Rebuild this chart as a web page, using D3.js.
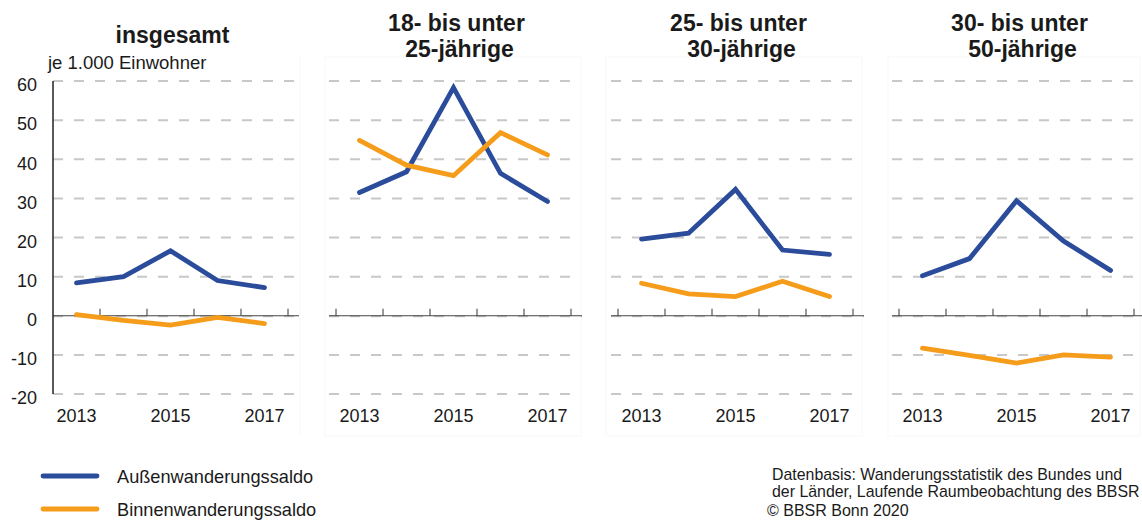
<!DOCTYPE html>
<html>
<head>
<meta charset="utf-8">
<script src="https://cdn.jsdelivr.net/npm/d3@7"></script>
<style>
  html, body { margin: 0; padding: 0; background: #fff; }
  svg { display: block; }
  text { font-family: Arial, "Liberation Sans", sans-serif; fill: #1a1a1a; }
</style>
</head>
<body>
<svg id="chart" width="1142" height="525"></svg>
<script>
// ---- data ----
const years = [2013, 2014, 2015, 2016, 2017];
const yearLabels = [2013, 2015, 2017];
const panelTitles = [
  ["insgesamt"],
  ["18- bis unter", "25-jährige"],
  ["25- bis unter", "30-jährige"],
  ["30- bis unter", "50-jährige"]
];
const aussen = [
  [8.4, 10.0, 16.6, 9.0, 7.2],
  [31.5, 36.8, 58.3, 36.4, 29.2],
  [19.6, 21.1, 32.3, 16.8, 15.7],
  [10.2, 14.6, 29.4, 19.1, 11.6]
];
const binnen = [
  [0.3, -1.2, -2.4, -0.4, -2.0],
  [44.8, 38.5, 35.8, 46.8, 41.1],
  [8.3, 5.6, 4.9, 8.8, 4.9],
  [-8.3, -10.1, -12.1, -10.0, -10.6]
];
const yTicks = [-20, -10, 0, 10, 20, 30, 40, 50, 60];
const seriesNames = ["Außenwanderungssaldo", "Binnenwanderungssaldo"];
const seriesColors = ["#2b4c9b", "#f59c1a"];
const unitLabel = "je 1.000 Einwohner";
const sourceLines = ["Datenbasis: Wanderungsstatistik des Bundes und", "der Länder, Laufende Raumbeobachtung des BBSR"];
const copyright = "© BBSR Bonn 2020";

// ---- layout ----
const svg = d3.select("#chart");
const panelX0 = [53, 336, 618, 899];
const bandW = 47;
const y = d3.scaleLinear().domain([-20, 60]).range([394, 81]);

// faint panel frames
[[325, 581], [606, 862], [888, 1140]].forEach(([a, b]) => {
  svg.append("rect").attr("x", a).attr("y", 57).attr("width", b - a).attr("height", 379)
    .attr("fill", "none").attr("stroke", "#f8f8f8").attr("stroke-width", 1);
});
svg.append("line").attr("x1", 300).attr("x2", 300).attr("y1", 57).attr("y2", 436)
  .attr("stroke", "#f8f8f8");

panelTitles.forEach((title, p) => {
  const x0 = panelX0[p];
  const x = d3.scaleBand().domain(years).range([x0, x0 + bandW * years.length]).padding(0);
  const g = svg.append("g");
  const gx1 = p === 0 ? x0 : x0 - 7;
  const gx2 = x0 + 244;

  // dashed gridlines
  g.selectAll("line.grid").data(yTicks.filter(v => v !== 0)).join("line")
    .attr("class", "grid")
    .attr("x1", gx1).attr("x2", gx2)
    .attr("y1", d => y(d)).attr("y2", d => y(d))
    .attr("stroke", "#c8c8c8").attr("stroke-width", 2)
    .attr("stroke-dasharray", "10,11");

  // zero line with dashed overlay
  g.append("line").attr("x1", gx1).attr("x2", gx2 + 2)
    .attr("y1", y(0) + 0.5).attr("y2", y(0) + 0.5)
    .attr("stroke", "#c8c8c8").attr("stroke-width", 2).attr("stroke-dasharray", "10,11");
  g.append("line").attr("x1", gx1).attr("x2", gx2 + 2)
    .attr("y1", y(0)).attr("y2", y(0))
    .attr("stroke", "#444").attr("stroke-width", 1);

  // category boundary ticks (upward)
  const bounds = years.map(d => x(d)).concat([x0 + bandW * years.length]);
  g.selectAll("line.tick").data(bounds.filter(b => !(p === 0 && b === x0))).join("line")
    .attr("class", "tick")
    .attr("x1", d => d).attr("x2", d => d)
    .attr("y1", y(0)).attr("y2", y(0) - 7)
    .attr("stroke", "#333").attr("stroke-width", 1);

  // x labels
  g.selectAll("text.xl").data(yearLabels).join("text")
    .attr("class", "xl")
    .attr("x", d => x(d) + x.bandwidth() / 2)
    .attr("y", 422)
    .attr("text-anchor", "middle")
    .attr("font-size", 18)
    .text(d => d);

  // series lines
  const line = d3.line().x((d, i) => x(years[i]) + x.bandwidth() / 2).y(d => y(d));
  [aussen[p], binnen[p]].forEach((vals, s) => {
    g.append("path").datum(vals)
      .attr("d", line)
      .attr("fill", "none")
      .attr("stroke", seriesColors[s])
      .attr("stroke-width", 4.8)
      .attr("stroke-linejoin", "miter")
      .attr("stroke-linecap", "round");
  });

  // titles
  const cx = x0 + bandW * years.length / 2 + 3;
  const tt = g.append("text").attr("text-anchor", "middle")
    .attr("font-size", 23).attr("font-weight", "bold");
  if (title.length === 1) {
    tt.append("tspan").attr("x", cx - 1).attr("y", 43).text(title[0]);
  } else {
    tt.append("tspan").attr("x", cx).attr("y", 31).text(title[0]);
    tt.append("tspan").attr("x", cx + 3).attr("y", 57).text(title[1]);
  }
});

// y axis (first panel)
svg.append("line").attr("x1", 53).attr("x2", 53).attr("y1", y(60)).attr("y2", y(-20))
  .attr("stroke", "#222").attr("stroke-width", 1.5);
svg.selectAll("text.yl").data(yTicks).join("text")
  .attr("class", "yl")
  .attr("x", 37)
  .attr("y", d => y(d) + 4)
  .attr("dy", "0.35em")
  .attr("text-anchor", "end")
  .attr("font-size", 18)
  .text(d => d);

svg.append("text").attr("x", 48).attr("y", 69).attr("font-size", 18.5).text(unitLabel);

// legend
seriesNames.forEach((name, i) => {
  const ly = 476 + i * 33;
  svg.append("line").attr("x1", 43).attr("x2", 97).attr("y1", ly).attr("y2", ly)
    .attr("stroke", seriesColors[i]).attr("stroke-width", 4.8).attr("stroke-linecap", "round");
  svg.append("text").attr("x", 117).attr("y", ly + 6.5).attr("font-size", 18.2).text(name);
});

// source
sourceLines.forEach((t, i) => {
  svg.append("text").attr("x", 772).attr("y", 480 + i * 16.5).attr("font-size", 15.9).text(t);
});
svg.append("text").attr("x", 767).attr("y", 516).attr("font-size", 16).text(copyright);
</script>
</body>
</html>
